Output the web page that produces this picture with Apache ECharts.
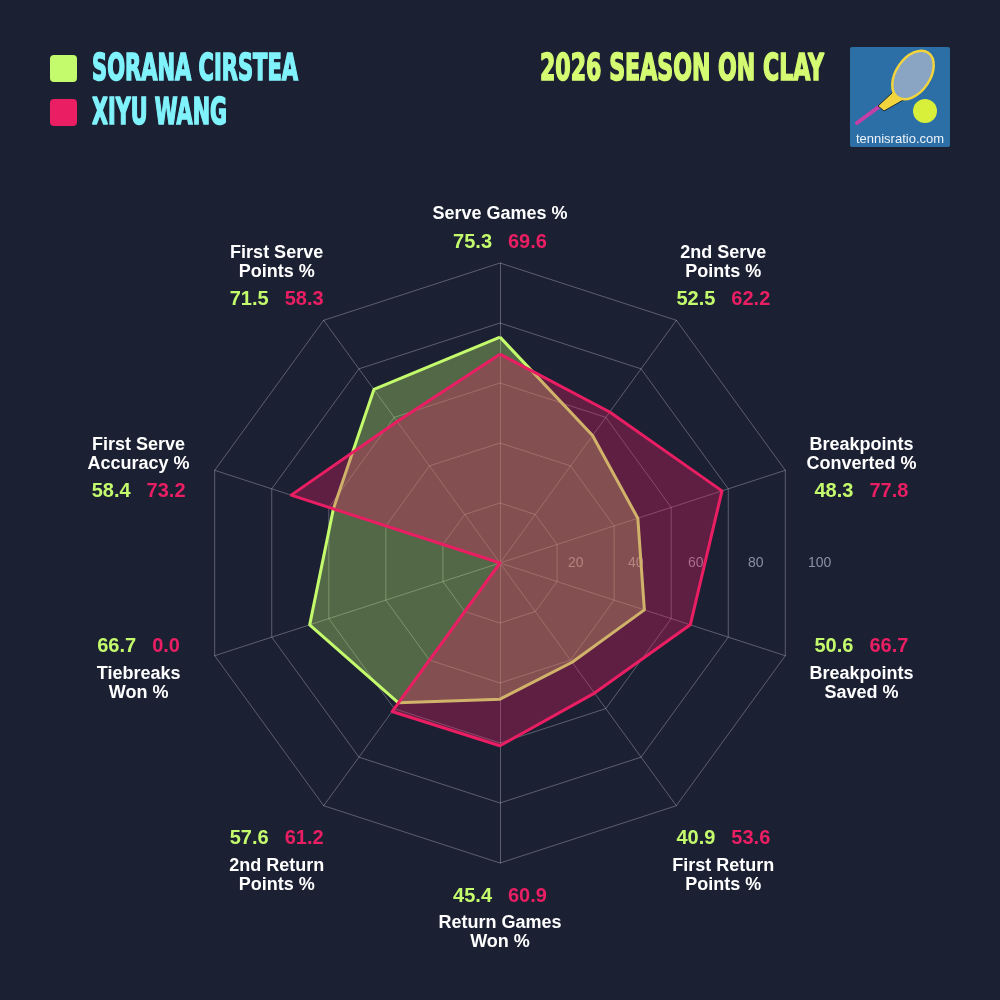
<!DOCTYPE html>
<html>
<head>
<meta charset="utf-8">
<title>Sorana Cirstea vs Xiyu Wang - 2026 season on clay</title>
<script src="https://cdn.jsdelivr.net/npm/echarts@6/dist/echarts.min.js"></script>
<style>
html, body { margin: 0; padding: 0; background: #1c2033; }
#chart { width: 1000px; height: 1000px; }
</style>
</head>
<body>
<div id="chart"></div>
<script>
// data, clockwise from the top
var players = ['SORANA CIRSTEA', 'XIYU WANG'];
var categories = ['Serve Games %', '2nd Serve\nPoints %', 'Breakpoints\nConverted %', 'Breakpoints\nSaved %',
    'First Return\nPoints %', 'Return Games\nWon %', '2nd Return\nPoints %', 'Tiebreaks\nWon %',
    'First Serve\nAccuracy %', 'First Serve\nPoints %'];
var cirstea = [75.3, 52.5, 48.3, 50.6, 40.9, 45.4, 57.6, 66.7, 58.4, 71.5];
var wang = [69.6, 62.2, 77.8, 66.7, 53.6, 60.9, 61.2, 0.0, 73.2, 58.3];
var ticks = [20, 40, 60, 80, 100];
var title = '2026 SEASON ON CLAY';

var GREEN = '#c4fb6d', PINK = '#e91e63', CYAN = '#80f2fb', LIME = '#d4fb72';
var FONT = '"Liberation Sans", Arial, sans-serif';
var HEAD_FONT = '"DejaVu Sans Condensed", "DejaVu Sans", sans-serif';

var cx = 500, cy = 563, radius = 300;

// echarts radar runs counter-clockwise, so flip the order after the first axis
var order = [0];
for (var k = categories.length - 1; k > 0; k--) order.push(k);
function pick(arr) { return order.map(function (i) { return arr[i]; }); }

var myChart = echarts.init(document.getElementById('chart'));

// squeeze the heading text to the width it has in the picture
var ctx = document.createElement('canvas').getContext('2d');
function fitScale(text, font, width) {
    ctx.font = font;
    return width / ctx.measureText(text).width;
}

var graphics = [];

// legend
var headFont = 'bold 38px ' + HEAD_FONT;
[[GREEN, 69], [PINK, 113]].forEach(function (it, i) {
    graphics.push({
        type: 'rect', shape: { x: 50, y: it[1] - 14, width: 27, height: 27, r: 4 },
        style: { fill: it[0] }
    });
    graphics.push({
        type: 'text', x: 92, y: it[1] + 1,
        scaleX: fitScale(players[i], headFont, i === 0 ? 206 : 135),
        style: { text: players[i], font: headFont, fill: CYAN, stroke: CYAN, lineWidth: 1.6,
            textAlign: 'left', textVerticalAlign: 'middle' }
    });
});

// title
graphics.push({
    type: 'text', x: 824, y: 70,
    scaleX: fitScale(title, headFont, 284),
    style: { text: title, font: headFont, fill: LIME, stroke: LIME, lineWidth: 1.6,
        textAlign: 'right', textVerticalAlign: 'middle' }
});

// logo
graphics.push({ type: 'rect', shape: { x: 850, y: 47, width: 100, height: 100, r: 2 }, style: { fill: '#2c6ea6' } });
graphics.push({ type: 'line', shape: { x1: 857, y1: 123, x2: 880, y2: 106 }, style: { stroke: '#c43fa6', lineWidth: 4, lineCap: 'round' } });
graphics.push({ type: 'polygon', shape: { points: [[878, 106], [893, 92], [905, 99], [884, 111]] }, style: { fill: '#f2d53c', stroke: '#1d2a3a', lineWidth: 1 } });
graphics.push({
    type: 'ellipse', x: 913, y: 75, rotation: -0.6,
    shape: { cx: 0, cy: 0, rx: 17, ry: 27 },
    style: { fill: '#8aa4c4', stroke: '#f2d53c', lineWidth: 2.5 }
});
graphics.push({ type: 'circle', shape: { cx: 925, cy: 111, r: 12 }, style: { fill: '#d8f03a' } });
graphics.push({
    type: 'text', x: 900, y: 139,
    style: { text: 'tennisratio.com', font: '13px ' + FONT, fill: '#eef4fa', textAlign: 'center', textVerticalAlign: 'middle' }
});

// ring values on the right
ticks.forEach(function (t) {
    graphics.push({
        type: 'text', z: 1, x: cx + radius * t / 100 + 8, y: cy,
        style: { text: String(t), font: '14px ' + FONT, fill: '#8b90a3', textAlign: 'left', textVerticalAlign: 'middle' }
    });
});

// axis names with both players' values
var labelRx = 380, labelRy = 313, labelDy = 6;
categories.forEach(function (name, i) {
    var a = i * 2 * Math.PI / categories.length;
    var s = Math.sin(a), c = Math.cos(a);
    var ry = labelRy - 4 * Math.pow(c, 4);
    var nameLines = name.split('\n').map(function (l) { return '{n|' + l + '}'; });
    var vals = '{g|' + cirstea[i].toFixed(1) + '}{p|' + wang[i].toFixed(1) + '}';
    var lines = c > 0 ? nameLines.concat([vals]) : [vals].concat(nameLines);
    graphics.push({
        type: 'text', z: 5,
        x: cx + labelRx * s, y: cy - ry * c + labelDy,
        style: {
            text: lines.join('\n'),
            textAlign: 'center',
            textVerticalAlign: c > 0.5 ? 'bottom' : (c < -0.5 ? 'top' : 'middle'),
            rich: {
                n: { fill: '#ffffff', font: 'bold 18px ' + FONT, lineHeight: 19, align: 'center' },
                g: { fill: GREEN, font: 'bold 20px ' + FONT, lineHeight: 36, align: 'center', padding: [0, 8, 0, 0] },
                p: { fill: PINK, font: 'bold 20px ' + FONT, lineHeight: 36, align: 'center', padding: [0, 0, 0, 8] }
            }
        }
    });
});

var option = {
    backgroundColor: '#1c2033',
    radar: {
        center: [cx, cy],
        radius: radius,
        shape: 'polygon',
        splitNumber: 5,
        indicator: pick(categories).map(function (n) { return { name: n, min: 0, max: 100 }; }),
        axisName: { show: false },
        axisLine: { lineStyle: { color: 'rgba(255,255,255,0.28)', width: 1 } },
        splitLine: { lineStyle: { color: 'rgba(255,255,255,0.28)', width: 1 } },
        splitArea: { show: false }
    },
    series: [{
        type: 'radar',
        z: 2,
        symbol: 'none',
        data: [{
            name: players[0],
            value: pick(cirstea),
            lineStyle: { color: GREEN, width: 3 },
            areaStyle: { color: GREEN, opacity: 0.33 }
        }]
    }, {
        type: 'radar',
        z: 3,
        symbol: 'none',
        data: [{
            name: players[1],
            value: pick(wang),
            lineStyle: { color: PINK, width: 3 },
            areaStyle: { color: PINK, opacity: 0.33 }
        }]
    }],
    graphic: graphics
};

myChart.setOption(option);
</script>
</body>
</html>
